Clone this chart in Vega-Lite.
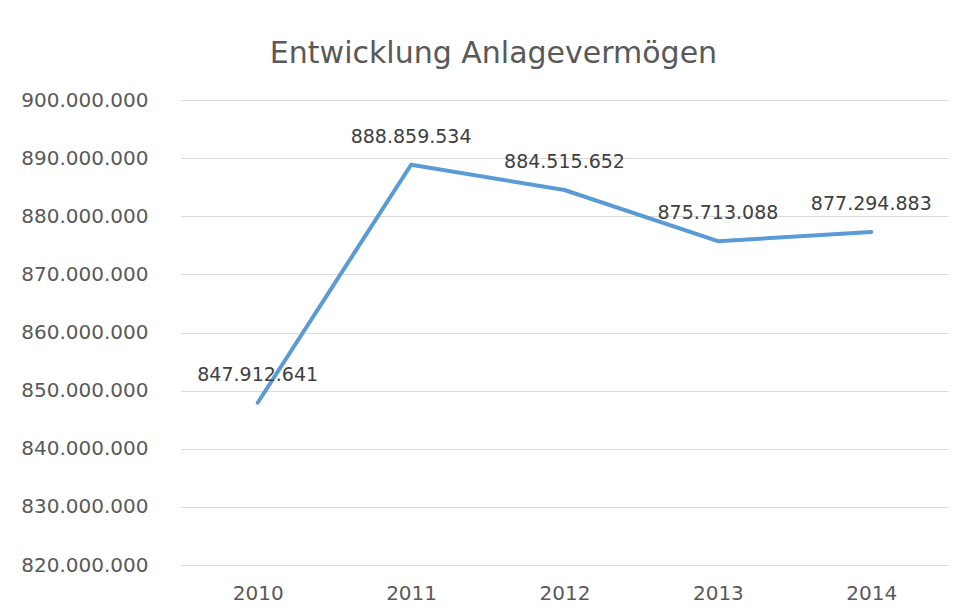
{
  "$schema": "https://vega.github.io/schema/vega-lite/v6.json",
  "autosize": "none",
  "width": 767,
  "height": 465,
  "padding": {"left": 181, "top": 100, "right": 20, "bottom": 49},
  "background": "white",
  "config": {
    "locale": {"number": {"decimal": ",", "thousands": ".", "grouping": [3], "currency": ["", " €"]}},
    "view": {"stroke": null},
    "font": "DejaVu Sans"
  },
  "title": {
    "text": "Entwicklung Anlagevermögen",
    "font": "DejaVu Sans",
    "fontSize": 30,
    "fontWeight": "normal",
    "color": "#595959",
    "anchor": "middle",
    "frame": "group",
    "baseline": "alphabetic",
    "offset": -3,
    "dx": -71
  },
  "data": {
    "values": [
      {"jahr": "2010", "wert": 847912641},
      {"jahr": "2011", "wert": 888859534},
      {"jahr": "2012", "wert": 884515652},
      {"jahr": "2013", "wert": 875713088},
      {"jahr": "2014", "wert": 877294883}
    ]
  },
  "encoding": {
    "x": {
      "field": "jahr",
      "type": "ordinal",
      "scale": {"type": "point", "padding": 0.5},
      "axis": {
        "title": null,
        "labelAngle": 0,
        "domain": false,
        "ticks": false,
        "tickSize": 0,
        "labelPadding": 18,
        "labelFont": "DejaVu Sans",
        "labelFontSize": 20,
        "labelColor": "#595959",
        "grid": false
      }
    },
    "y": {
      "field": "wert",
      "type": "quantitative",
      "scale": {"domain": [820000000, 900000000], "nice": false, "zero": false},
      "axis": {
        "title": null,
        "values": [820000000, 830000000, 840000000, 850000000, 860000000, 870000000, 880000000, 890000000, 900000000],
        "format": ",d",
        "domain": false,
        "ticks": false,
        "tickSize": 0,
        "labelPadding": 33,
        "labelFont": "DejaVu Sans",
        "labelFontSize": 20,
        "labelColor": "#595959",
        "grid": true,
        "gridColor": "#d9d9d9",
        "gridWidth": 1
      }
    }
  },
  "layer": [
    {
      "mark": {"type": "line", "color": "#5B9BD5", "strokeWidth": 4, "strokeCap": "round", "strokeJoin": "round"}
    },
    {
      "mark": {"type": "text", "dy": -28, "font": "DejaVu Sans", "fontSize": 19, "color": "#404040"},
      "encoding": {
        "text": {"field": "wert", "type": "quantitative", "format": ",d"}
      }
    }
  ]
}
